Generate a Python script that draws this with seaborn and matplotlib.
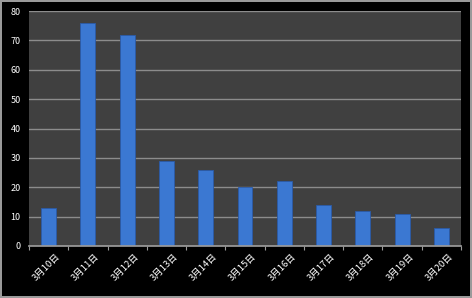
import matplotlib
matplotlib.use("Agg")
import matplotlib.pyplot as plt
import matplotlib.transforms as mtransforms
from matplotlib.ticker import FixedLocator
import seaborn as sns
import pandas as pd

dates = ["3月10日", "3月11日", "3月12日", "3月13日", "3月14日", "3月15日",
         "3月16日", "3月17日", "3月18日", "3月19日", "3月20日"]
values = [13, 76, 72, 29, 26, 20, 22, 14, 12, 11, 6]
yticks = [0, 10, 20, 30, 40, 50, 60, 70, 80]

sns.set_theme(style="dark")
plt.rcParams['font.family'] = ['Noto Sans CJK JP', 'DejaVu Sans']

df = pd.DataFrame({"date": dates, "value": values})

fig = plt.figure(figsize=(4.72, 2.98), dpi=100)
fig.patch.set_facecolor("black")
fig.patch.set_edgecolor("#9a9a9a")
fig.patch.set_linewidth(1.5)
ax = fig.add_axes([0.0614, 0.1745, 0.9153, 0.7885])
ax.set_facecolor("#404040")

sns.barplot(data=df, x="date", y="value", ax=ax, color="#3b78d2",
            width=0.38, edgecolor="#2a5aa8", linewidth=0.6, saturation=1)

ax.set_ylim(0, 80)
ax.set_xlim(-0.5, len(dates) - 0.5)
ax.set_yticks(yticks)
ax.yaxis.grid(True, color="#8c8c8c", linewidth=1)
ax.xaxis.grid(False)
ax.set_axisbelow(True)
ax.set_xlabel("")
ax.set_ylabel("")
for s in ax.spines.values():
    s.set_visible(False)
ax.spines["bottom"].set_visible(True)
ax.spines["bottom"].set_color("#9a9a9a")
ax.xaxis.set_minor_locator(FixedLocator([i - 0.5 for i in range(len(dates) + 1)]))
ax.tick_params(axis="x", which="minor", bottom=True, length=3, color="#9a9a9a", width=0.8, direction="out")
ax.tick_params(axis="y", colors="white", labelsize=6.5, length=0, pad=6)
ax.tick_params(axis="x", which="major", colors="white", labelsize=6.8, length=0, pad=4)
offset = mtransforms.ScaledTranslation(7 / 100, 0, fig.dpi_scale_trans)
for lab in ax.get_xticklabels():
    lab.set_rotation(45)
    lab.set_ha("right")
    lab.set_rotation_mode("anchor")
    lab.set_transform(lab.get_transform() + offset)

fig.savefig("out.png", dpi=100, facecolor=fig.get_facecolor(), edgecolor=fig.get_edgecolor())
